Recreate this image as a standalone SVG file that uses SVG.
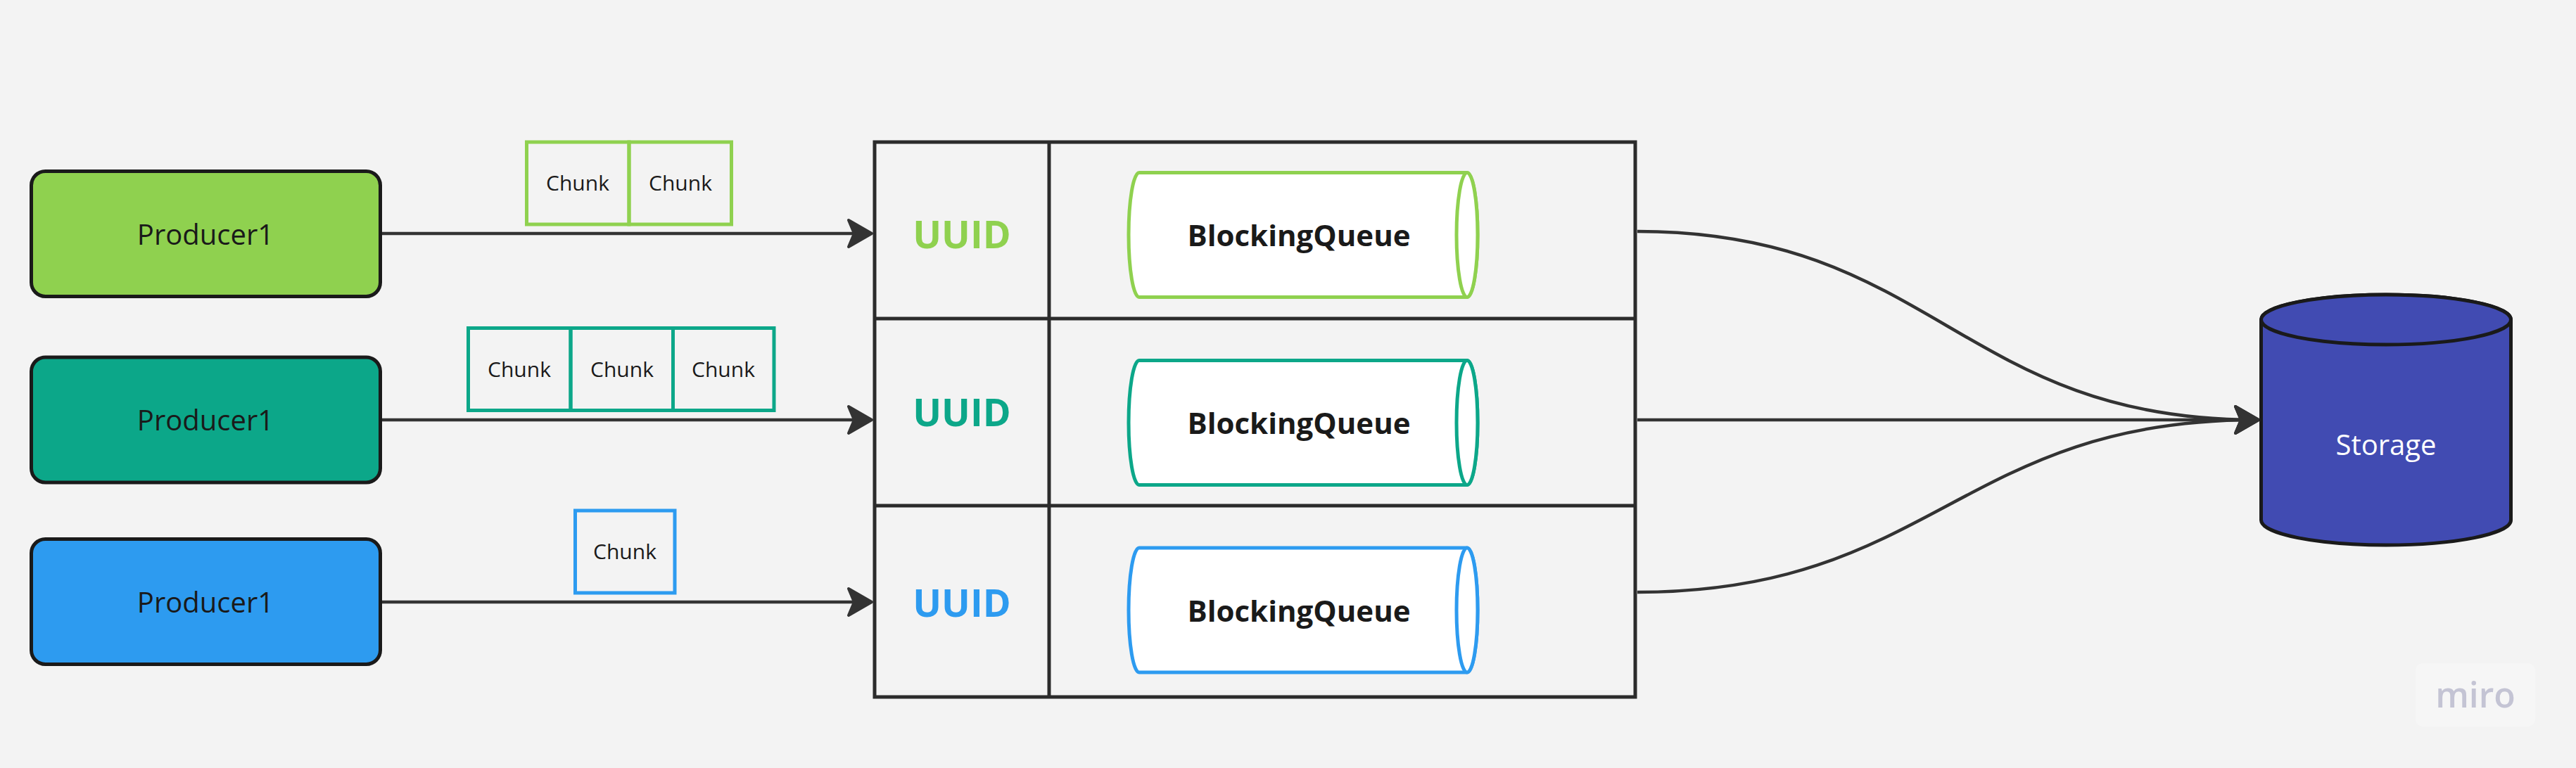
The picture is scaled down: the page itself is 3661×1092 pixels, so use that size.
<svg xmlns="http://www.w3.org/2000/svg" width="3661" height="1092" viewBox="0 0 3661 1092">
<defs>
<style>
.font{font-family:"Open Sans","Noto Sans","Liberation Sans",sans-serif}
.prod{stroke:#1a1a1a;stroke-width:5}
.ptxt{font-size:40px;fill:#1a1a1a;text-anchor:middle}
.chunk{fill:none;stroke-width:5}
.ctxt{font-size:30px;fill:#1a1a1a;text-anchor:middle}
.tbl{fill:none;stroke:#2b2b2b;stroke-width:5}
.uuid{font-size:54px;font-weight:700;text-anchor:middle}
.bq{fill:#ffffff;stroke-width:5}
.bqtxt{font-size:42px;font-weight:700;fill:#1a1a1a;text-anchor:middle}
.conn{fill:none;stroke:#333333;stroke-width:4.5}
.green{stroke:#8fd14f}
.teal{stroke:#0ca789}
.blue{stroke:#2d9bf0}
</style>
<marker id="arrow" viewBox="-44 -25 48 50" refX="-6" refY="0" markerWidth="48" markerHeight="50" markerUnits="userSpaceOnUse" orient="auto">
<path d="M-2,0 L-35,-19 L-27,0 L-35,19 Z" fill="#333333" stroke="#333333" stroke-width="4" stroke-linejoin="round"/>
</marker>
</defs>
<rect width="3661" height="1092" fill="#f3f3f3"/>

<g id="connectors">
<path class="conn" d="M543,332 H1235" marker-end="url(#arrow)"/>
<path class="conn" d="M543,597 H1235" marker-end="url(#arrow)"/>
<path class="conn" d="M543,856 H1235" marker-end="url(#arrow)"/>
<path class="conn" d="M2327,329 C2747,329 2786,597 3206,597" marker-end="url(#arrow)"/>
<path class="conn" d="M2327,597 H3206" marker-end="url(#arrow)"/>
<path class="conn" d="M2327,842 C2747,842 2786,597 3206,597" marker-end="url(#arrow)"/>
</g>

<g id="producer-1">
<rect class="prod" x="44.5" y="243.5" width="496" height="178" rx="20" fill="#8fd14f"/>
<text class="font ptxt" x="292" y="348">Producer1</text>
</g>
<g id="producer-2">
<rect class="prod" x="44.5" y="508" width="496" height="178" rx="20" fill="#0ca789"/>
<text class="font ptxt" x="292" y="612">Producer1</text>
</g>
<g id="producer-3">
<rect class="prod" x="44.5" y="766.5" width="496" height="178" rx="20" fill="#2d9bf0"/>
<text class="font ptxt" x="292" y="871">Producer1</text>
</g>

<g id="chunks-1">
<rect class="chunk green" x="748.5" y="202" width="145.5" height="117"/>
<rect class="chunk green" x="894" y="202" width="145.5" height="117"/>
<text class="font ctxt" x="821" y="271">Chunk</text>
<text class="font ctxt" x="967" y="271">Chunk</text>
</g>
<g id="chunks-2">
<rect class="chunk teal" x="665.5" y="466.5" width="145.5" height="117"/>
<rect class="chunk teal" x="811" y="466.5" width="145.5" height="117"/>
<rect class="chunk teal" x="956.5" y="466.5" width="143.5" height="117"/>
<text class="font ctxt" x="738" y="536">Chunk</text>
<text class="font ctxt" x="884" y="536">Chunk</text>
<text class="font ctxt" x="1028" y="536">Chunk</text>
</g>
<g id="chunks-3">
<rect class="chunk blue" x="817.5" y="726" width="141.5" height="117"/>
<text class="font ctxt" x="888" y="795">Chunk</text>
</g>

<g id="table">
<rect class="tbl" x="1243" y="202" width="1081" height="789"/>
<line class="tbl" x1="1243" y1="453" x2="2324" y2="453"/>
<line class="tbl" x1="1243" y1="719" x2="2324" y2="719"/>
<line class="tbl" x1="1491" y1="202" x2="1491" y2="991" stroke-width="4"/>
<text class="font uuid" x="1367" y="353" fill="#8fd14f">UUID</text>
<text class="font uuid" x="1367" y="606" fill="#0ca789">UUID</text>
<text class="font uuid" x="1367" y="877" fill="#2d9bf0">UUID</text>
</g>

<g id="queue-1">
<path class="bq green" d="M1619,245.5 L2085,245.5 A15,88.5 0 0 1 2085,422.5 L1619,422.5 A15,88.5 0 0 1 1619,245.5 Z"/>
<ellipse class="bq green" cx="2085" cy="334" rx="15" ry="88.5"/>
<text class="font bqtxt" x="1846" y="350">BlockingQueue</text>
</g>
<g id="queue-2">
<path class="bq teal" d="M1619,512.5 L2085,512.5 A15,88.5 0 0 1 2085,689.5 L1619,689.5 A15,88.5 0 0 1 1619,512.5 Z"/>
<ellipse class="bq teal" cx="2085" cy="601" rx="15" ry="88.5"/>
<text class="font bqtxt" x="1846" y="617">BlockingQueue</text>
</g>
<g id="queue-3">
<path class="bq blue" d="M1619,779 L2085,779 A15,88.5 0 0 1 2085,956 L1619,956 A15,88.5 0 0 1 1619,779 Z"/>
<ellipse class="bq blue" cx="2085" cy="867.5" rx="15" ry="88.5"/>
<text class="font bqtxt" x="1846" y="884">BlockingQueue</text>
</g>

<g id="storage">
<path d="M3213.5,454.5 L3213.5,739.5 A177.5,35.5 0 0 0 3568.5,739.5 L3568.5,454.5 A177.5,35.5 0 0 0 3213.5,454.5 Z" fill="#414bb2" stroke="#1a1a1a" stroke-width="5"/>
<ellipse cx="3391" cy="454.5" rx="177.5" ry="35.5" fill="#414bb2" stroke="#1a1a1a" stroke-width="5"/>
<text class="font" x="3391" y="647" font-size="40" fill="#ffffff" text-anchor="middle">Storage</text>
</g>

<g id="miro-logo">
<rect x="3433" y="943" width="170" height="90" rx="10" fill="#f6f6f6"/>
<text class="font" x="3518" y="1006" font-size="50" font-weight="600" fill="#c4c4d4" text-anchor="middle">miro</text>
</g>
</svg>
